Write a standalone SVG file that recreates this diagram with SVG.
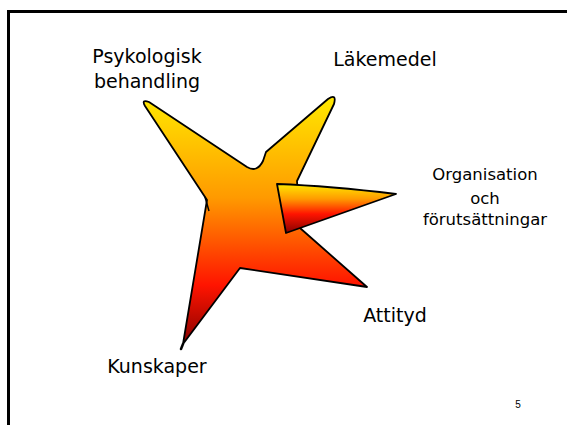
<svg xmlns="http://www.w3.org/2000/svg" width="567" height="425" viewBox="0 0 567 425">
<style>
.lbl{font-family:"Comic Sans MS","DejaVu Sans",sans-serif;font-size:19px;fill:#000;text-anchor:middle}
.sm{font-size:16.5px}
.shape{stroke:#000;stroke-width:1.8;stroke-linejoin:round}
</style>
<defs>
<linearGradient id="gMain" x1="0" y1="97" x2="0" y2="348" gradientUnits="userSpaceOnUse">
<stop offset="0" stop-color="#FFE800"/>
<stop offset="0.4" stop-color="#FF9A00"/>
<stop offset="0.75" stop-color="#FF1400"/>
<stop offset="1" stop-color="#800000"/>
</linearGradient>
<linearGradient id="gSmall" x1="0" y1="184" x2="0" y2="234" gradientUnits="userSpaceOnUse">
<stop offset="0" stop-color="#FFE800"/>
<stop offset="0.3" stop-color="#FF9A00"/>
<stop offset="0.6" stop-color="#FF1400"/>
<stop offset="1" stop-color="#800000"/>
</linearGradient>
</defs>
<rect width="567" height="425" fill="#fff"/>
<path d="M8.5 425 V11.5 H567" fill="none" stroke="#000" stroke-width="3"/>
<g id="star">
<path class="shape" fill="url(#gMain)" d="M207 200 L145 106 Q141 99 149 102 L247 167 Q257 173 263 161 L266 152 L328 99 Q337 93 334 104 L297 181 L300 228 L367 287 L240 268 L183 344 L207 200 Z"/>
<path d="M205 197 L209 211" stroke="#000" stroke-width="1.5" fill="none"/>
<path d="M183 344 L181 349" stroke="#000" stroke-width="2.5" fill="none" stroke-linecap="round"/>
<path class="shape" fill="url(#gSmall)" d="M277 184 Q330 186 396 194 L286 233 Z"/>
</g>
<g id="psykologisk"><text class="lbl" x="147" y="63">Psykologisk</text><text class="lbl" x="147" y="88">behandling</text></g>
<g id="lakemedel"><text class="lbl" x="385" y="66">Läkemedel</text></g>
<g id="organisation"><text class="lbl sm" x="485" y="180">Organisation</text><text class="lbl sm" x="485" y="204">och</text><text class="lbl sm" x="485" y="225">förutsättningar</text></g>
<g id="attityd"><text class="lbl" x="395" y="322">Attityd</text></g>
<g id="kunskaper"><text class="lbl" x="157" y="373">Kunskaper</text></g>
<text x="518" y="408" font-family="Liberation Sans, sans-serif" font-size="10" text-anchor="middle">5</text>
<g id="connectors"/>
</svg>
